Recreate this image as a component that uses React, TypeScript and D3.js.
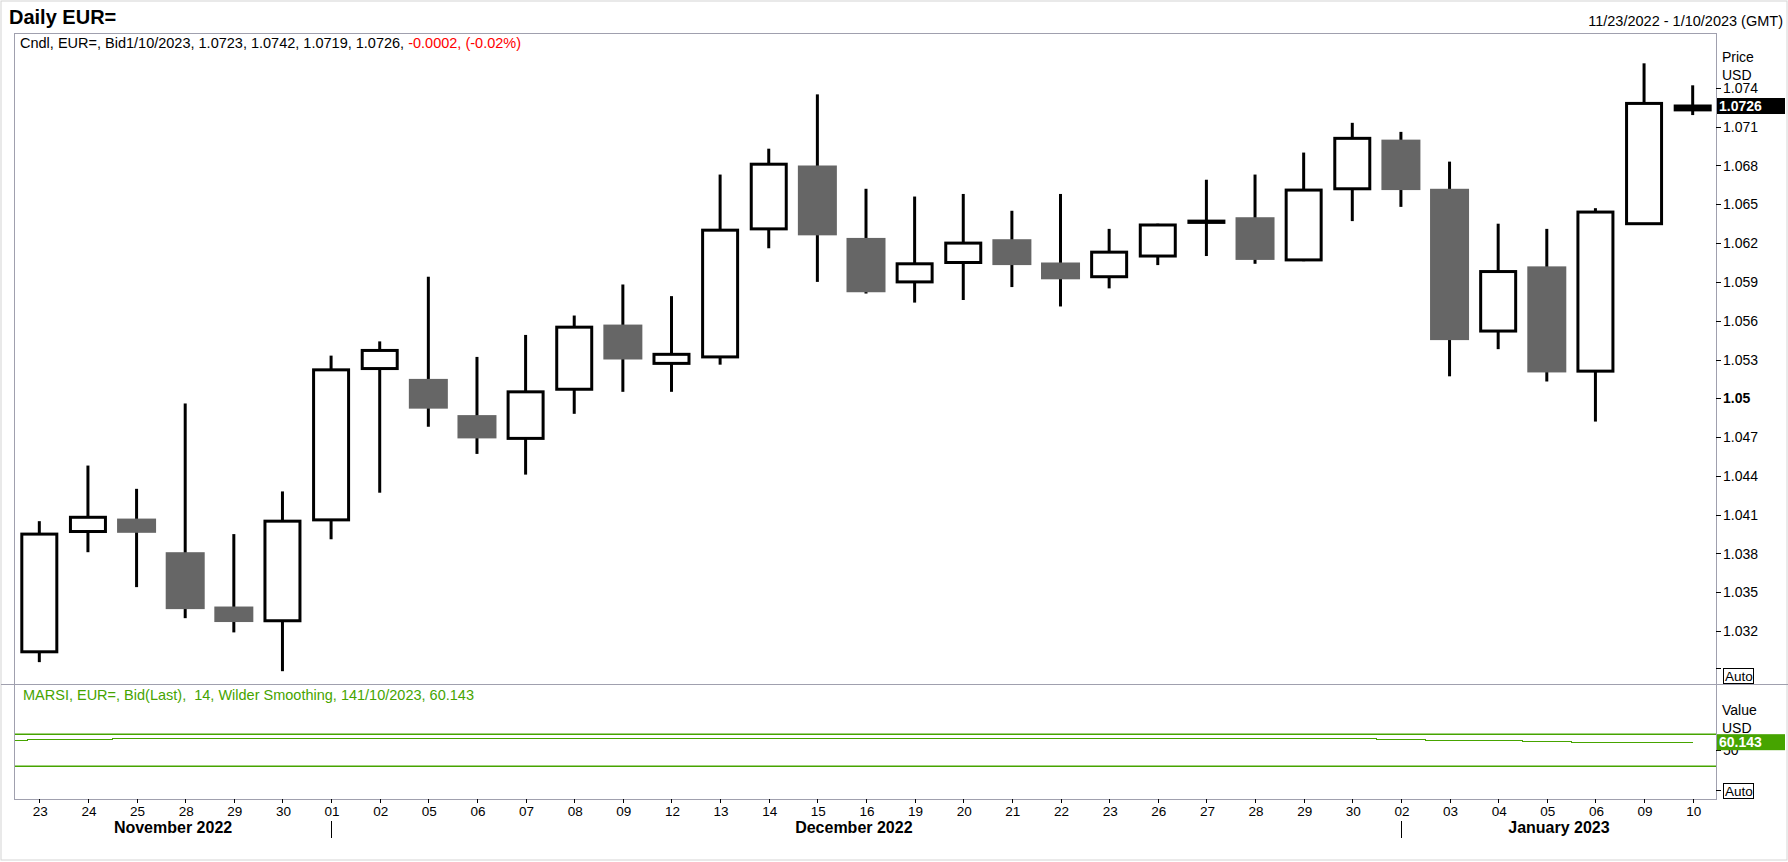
import React from 'react';
import * as d3 from 'd3';

// daily bars, 23 Nov 2022 - 10 Jan 2023
const dayLabels = [
  '23', '24', '25', '28', '29', '30',
  '01', '02', '05', '06', '07', '08', '09', '12', '13', '14', '15', '16', '19', '20', '21', '22', '23', '26', '27', '28', '29', '30',
  '02', '03', '04', '05', '06', '09', '10',
];
const monthOf = [
  0, 0, 0, 0, 0, 0,
  1, 1, 1, 1, 1, 1, 1, 1, 1, 1, 1, 1, 1, 1, 1, 1, 1, 1, 1, 1, 1, 1,
  2, 2, 2, 2, 2, 2, 2,
];
const monthNames = ['November 2022', 'December 2022', 'January 2023'];

const opens = [
  1.0304, 1.0397, 1.0407, 1.0381, 1.0339, 1.0328,
  1.0406, 1.0523, 1.0515, 1.0487, 1.0469, 1.0507, 1.0557, 1.0527, 1.0532, 1.0631, 1.0680, 1.0624, 1.0590, 1.0605, 1.0623, 1.0605, 1.0594, 1.0610, 1.0636, 1.0640, 1.0607, 1.0662,
  1.0700, 1.0662, 1.0552, 1.0602, 1.0521, 1.0635, 1.0723,
];
const highs = [
  1.0405, 1.0448, 1.0430, 1.0496, 1.0395, 1.0428,
  1.0533, 1.0544, 1.0594, 1.0532, 1.0549, 1.0564, 1.0588, 1.0579, 1.0673, 1.0693, 1.0735, 1.0662, 1.0656, 1.0658, 1.0645, 1.0658, 1.0631, 1.0635, 1.0669, 1.0673, 1.0690, 1.0713,
  1.0706, 1.0683, 1.0635, 1.0631, 1.0647, 1.0759, 1.0742,
];
const lows = [
  1.0296, 1.0381, 1.0354, 1.0330, 1.0319, 1.0289,
  1.0391, 1.0427, 1.0478, 1.0457, 1.0441, 1.0488, 1.0505, 1.0505, 1.0526, 1.0616, 1.0590, 1.0581, 1.0574, 1.0576, 1.0586, 1.0571, 1.0585, 1.0603, 1.0610, 1.0604, 1.0606, 1.0637,
  1.0648, 1.0517, 1.0538, 1.0513, 1.0482, 1.0634, 1.0719,
];
const closes = [
  1.0395, 1.0408, 1.0396, 1.0337, 1.0327, 1.0405,
  1.0522, 1.0537, 1.0492, 1.0469, 1.0505, 1.0555, 1.0530, 1.0534, 1.0630, 1.0681, 1.0626, 1.0582, 1.0604, 1.0620, 1.0603, 1.0592, 1.0613, 1.0634, 1.0637, 1.0607, 1.0661, 1.0701,
  1.0661, 1.0545, 1.0598, 1.0520, 1.0644, 1.0728, 1.0726,
];
// RSI just before the first visible bar, then one value per bar
const rsiPrior = 62.5;
const rsiValues = [
  63.75, 63.75, 65.0, 65.0, 65.0, 65.0,
  65.0, 65.0, 65.0, 65.0, 65.0, 65.0, 65.0, 65.0, 65.0, 65.0, 65.0, 65.0, 65.0, 65.0, 65.0, 65.0, 65.0, 65.0, 65.0, 65.0, 65.0, 65.0,
  63.75, 62.5, 62.5, 61.25, 60.143, 60.143, 60.143,
];

const priceTicks = [1.032, 1.035, 1.038, 1.041, 1.044, 1.047, 1.05, 1.053, 1.056, 1.059, 1.062, 1.065, 1.068, 1.071, 1.074];
const rsiLevels = [70, 30];

const W = 1788;
const H = 862;
const FONT = '"Liberation Sans", Arial, sans-serif';
const GREEN = '#46a400';
const FRAME = '#a0a0ae';

const plotLeft = 14;
const plotRight = 1716;
const priceTop = 33;
const priceBottom = 684;
const rsiBottom = 799;

export default function App() {
  const idx = dayLabels.map((_, i) => i);
  const x = d3.scaleBand<number>().domain(idx).range([15, 1717]);
  const cx = (i: number) => (x(i) ?? 0) + x.bandwidth() / 2;
  const y = d3.scaleLinear().domain([1.029, 1.074]).range([669.9, 87.9]);
  const yr = d3.scaleLinear().domain([30, 70]).range([766.3, 734.3]);

  const rsiPoints: [number, number][] = [
    [plotLeft + 1, rsiPrior],
    ...rsiValues.map((v, i) => [cx(i), v] as [number, number]),
  ];
  const rsiLine = d3.line<[number, number]>()
    .x(d => d[0])
    .y(d => Math.round(yr(d[1])) + 0.5)
    .curve(d3.curveStep);

  const lastClose = closes[closes.length - 1];
  const lastRsi = rsiValues[rsiValues.length - 1];

  const months = monthNames.map((name, m) => {
    const members = idx.filter(i => monthOf[i] === m);
    const first = members[0];
    const last = members[members.length - 1];
    return { name, first, mid: (cx(first) + cx(last)) / 2 + x.step() * 0.25 };
  });

  return (
    <svg width={W} height={H} style={{ position: 'absolute', left: 0, top: 0, background: '#fff' }} fontFamily={FONT}>
      <rect x={1} y={1} width={W - 2} height={859} fill="#fff" stroke="#d4d4d4" />

      <text x={9} y={24} fontSize={20} fontWeight="bold">Daily EUR=</text>
      <text x={1783} y={26} fontSize={14.5} textAnchor="end">11/23/2022 - 1/10/2023 (GMT)</text>

      {/* panels */}
      <rect x={plotLeft + 0.5} y={priceTop + 0.5} width={plotRight - plotLeft} height={rsiBottom - priceTop} fill="none" stroke={FRAME} />
      <line x1={1} x2={W} y1={priceBottom + 0.5} y2={priceBottom + 0.5} stroke={FRAME} />

      <text x={20} y={48} fontSize={14.5}>
        Cndl, EUR=, Bid1/10/2023, 1.0723, 1.0742, 1.0719, 1.0726, <tspan fill="#ff0000">-0.0002, (-0.02%)</tspan>
      </text>

      {/* candles */}
      {idx.map(i => {
        const up = closes[i] >= opens[i];
        const top = y(Math.max(opens[i], closes[i]));
        const bot = y(Math.min(opens[i], closes[i]));
        const c = cx(i);
        const thin = bot - top < 5;
        return (
          <g key={i}>
            <line x1={c} x2={c} y1={y(highs[i])} y2={y(lows[i])} stroke="#000" strokeWidth={3} />
            {up ? (
              <rect x={c - 17.5} y={top} width={35} height={bot - top} fill={thin ? '#000' : '#fff'} stroke="#000" strokeWidth={3} />
            ) : (
              <rect x={c - 19.5} y={top} width={39} height={bot - top} fill="#666666" />
            )}
          </g>
        );
      })}

      {/* price axis */}
      {priceTicks.map(t => (
        <g key={t}>
          <line x1={plotRight} x2={plotRight + 5} y1={Math.round(y(t)) + 0.5} y2={Math.round(y(t)) + 0.5} stroke="#000" />
          <text x={1723} y={y(t) + 5} fontSize={14} fontWeight={t === 1.05 ? 'bold' : 'normal'}>
            {t === 1.05 ? '1.05' : d3.format('.3f')(t)}
          </text>
        </g>
      ))}
      <line x1={plotRight} x2={plotRight + 5} y1={668.5} y2={668.5} stroke="#000" />
      <rect x={1723.5} y={668.5} width={30} height={15} fill="#fff" stroke="#000" />
      <text x={1725} y={681} fontSize={13.5}>Auto</text>
      <text x={1722} y={62} fontSize={14}>Price</text>
      <text x={1722} y={80} fontSize={14}>USD</text>
      <rect x={1717} y={y(lastClose) - 8} width={68} height={16} fill="#000" />
      <text x={1719} y={y(lastClose) + 5} fontSize={14} fontWeight="bold" fill="#fff">{d3.format('.4f')(lastClose)}</text>

      {/* RSI panel */}
      <text x={23} y={700} fontSize={14.5} fill={GREEN}>
        {'MARSI, EUR=, Bid(Last), \u00a014, Wilder Smoothing, 141/10/2023, 60.143'}
      </text>
      {rsiLevels.map(l => (
        <line key={l} x1={plotLeft + 1} x2={plotRight} y1={yr(l)} y2={yr(l)} stroke={GREEN} strokeWidth={1.5} />
      ))}
      <path d={rsiLine(rsiPoints) ?? ''} fill="none" stroke={GREEN} strokeWidth={1} shapeRendering="crispEdges" />
      <text x={1722} y={715} fontSize={14}>Value</text>
      <text x={1722} y={733} fontSize={14}>USD</text>
      <line x1={plotRight} x2={plotRight + 5} y1={Math.round(yr(50)) + 0.5} y2={Math.round(yr(50)) + 0.5} stroke="#000" />
      <text x={1723} y={yr(50) + 5} fontSize={14}>50</text>
      <rect x={1717} y={yr(lastRsi) - 8} width={68} height={16} fill={GREEN} />
      <text x={1719} y={yr(lastRsi) + 5} fontSize={14} fontWeight="bold" fill="#fff">{d3.format('.3f')(lastRsi)}</text>
      <line x1={plotRight} x2={plotRight + 5} y1={790.5} y2={790.5} stroke="#000" />
      <rect x={1723.5} y={783.5} width={30} height={15} fill="#fff" stroke="#000" />
      <text x={1725} y={796} fontSize={13.5}>Auto</text>

      {/* date axis */}
      {idx.map(i => (
        <g key={i}>
          <line x1={Math.round(cx(i)) + 0.5} x2={Math.round(cx(i)) + 0.5} y1={rsiBottom} y2={rsiBottom + 4} stroke="#000" />
          <text x={cx(i) + 1} y={816} fontSize={13.5} textAnchor="middle">{dayLabels[i]}</text>
        </g>
      ))}
      {months.map((m, k) => (
        <g key={m.name}>
          <text x={m.mid} y={833} fontSize={16} fontWeight="bold" textAnchor="middle">{m.name}</text>
          {k > 0 && (
            <line x1={Math.round(cx(m.first)) + 0.5} x2={Math.round(cx(m.first)) + 0.5} y1={821} y2={838} stroke="#000" />
          )}
        </g>
      ))}
    </svg>
  );
}
